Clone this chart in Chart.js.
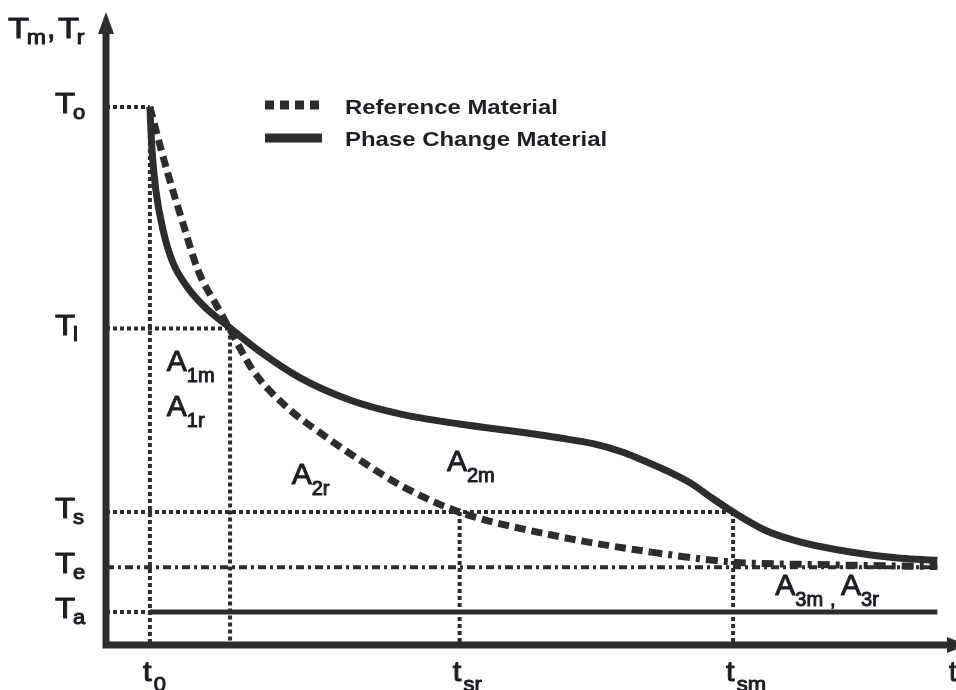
<!DOCTYPE html>
<html>
<head>
<meta charset="utf-8">
<script src="https://cdn.jsdelivr.net/npm/chart.js@4.4.1/dist/chart.umd.min.js"></script>
<style>
  html, body { margin: 0; padding: 0; background: #fff; }
  #wrap { width: 956px; height: 690px; }
</style>
</head>
<body>
<div id="wrap"><canvas id="curvas" width="956" height="690"></canvas></div>
<script>
// marcas de tiempo: t0, cruce de curvas, t_sr, t_sm, fin
var tiempos = [5.2, 14.7, 41.9, 74.3, 98.5];
var etiquetasT = [['t', '0'], null, ['t', 'sr'], ['t', 'sm'], null];
// niveles de temperatura: To, Tl, Ts, Te, Ta
var temps = [85, 50, 21, 12.3, 5.2];
var etiquetasTemp = [['T', 'o'], ['T', 'l'], ['T', 's'], ['T', 'e'], ['T', 'a']];

// Phase Change Material
var pcmX = [5.2, 5.45, 5.9, 6.75, 7.9, 9.6, 11.7, 14.7, 18.3, 23.0, 28.9, 34.8, 41.9, 49.9, 53.8, 57.7, 60.9, 63.6, 66.8, 69.6, 71.6, 74.3, 78.3, 82.2, 88.2, 94.1, 98.5];
var pcmY = [85.0, 78.2, 71.9, 65.6, 60.5, 56.6, 53.4, 50.1, 46.3, 42.2, 38.7, 36.5, 34.9, 33.5, 32.7, 31.8, 30.6, 29.2, 27.3, 25.3, 23.4, 21.0, 18.0, 16.3, 14.7, 13.7, 13.4];
// Reference Material
var refX = [5.2, 5.9, 7.3, 9.1, 10.9, 13.2, 14.7, 17.4, 21.4, 25.4, 30.1, 35.2, 41.9, 53.8, 64.5, 74.3, 84.6, 98.5];
var refY = [85.0, 81.4, 74.6, 66.7, 59.2, 53.4, 49.8, 43.4, 37.6, 33.5, 29.2, 25.0, 21.0, 17.1, 14.7, 13.1, 12.7, 12.4];

var colorLinea = '#2d2d2d';
var colorTexto = '#1e1e26';
var fuente = '"Liberation Sans", Arial, Helvetica, sans-serif';

function puntos(xs, ys) {
  return xs.map(function (x, i) { return { x: x, y: ys[i] }; });
}

function guia(x1, y1, x2, y2, dash, ancho) {
  return {
    data: [{ x: x1, y: y1 }, { x: x2, y: y2 }],
    borderColor: colorLinea,
    borderWidth: ancho || 4,
    borderDash: dash,
    borderCapStyle: 'butt',
    pointRadius: 0,
    tension: 0
  };
}

var puntitos = [4, 3];
var datasets = [
  {
    label: 'Phase Change Material',
    data: puntos(pcmX, pcmY),
    borderColor: colorLinea,
    borderWidth: 7,
    pointRadius: 0,
    cubicInterpolationMode: 'monotone'
  },
  {
    label: 'Reference Material',
    data: puntos(refX, refY),
    borderColor: colorLinea,
    borderWidth: 7,
    borderCapStyle: 'butt',
    pointRadius: 0,
    cubicInterpolationMode: 'monotone',
    segment: {
      borderDash: function (ctx) {
        return ctx.p0.parsed.x > 55 ? [12, 6, 4, 6] : [11, 6];
      }
    }
  },
  // lineas horizontales
  guia(0, temps[0], tiempos[0], temps[0], puntitos),
  guia(0, temps[1], tiempos[1], temps[1], puntitos),
  guia(0, temps[2], tiempos[3], temps[2], puntitos),
  guia(0, temps[3], tiempos[4], temps[3], [8, 4, 3, 4]),
  guia(0, temps[4], tiempos[0], temps[4], puntitos),
  guia(tiempos[0], temps[4], tiempos[4], temps[4], [], 5),
  // lineas verticales
  guia(tiempos[0], temps[0], tiempos[0], 0, puntitos),
  guia(tiempos[1], temps[1], tiempos[1], 0, puntitos),
  guia(tiempos[2], temps[2], tiempos[2], 0, puntitos),
  guia(tiempos[3], temps[2], tiempos[3], 0, puntitos)
];

// texto con un poco de trazo para darle peso medio
function escribir(ctx, txt, x, y) {
  ctx.fillText(txt, x, y);
  ctx.strokeText(txt, x, y);
}

function conSub(ctx, main, sub, x, y, f1, f2, dy, gap, sx) {
  ctx.save();
  ctx.translate(x, y);
  ctx.scale(sx || 1, 1);
  ctx.font = f1;
  escribir(ctx, main, 0, 0);
  var w = ctx.measureText(main).width;
  ctx.font = f2;
  escribir(ctx, sub, w + gap, dy);
  var w2 = ctx.measureText(sub).width;
  ctx.restore();
  return x + (w + gap + w2) * (sx || 1);
}

var dibujo = {
  id: 'dibujo',
  afterDatasetsDraw: function (chart) {
    var ctx = chart.ctx;
    var a = chart.chartArea;
    var sx = chart.scales.x, sy = chart.scales.y;
    var grande = '30px ' + fuente, chico = '20px ' + fuente;

    // ejes
    ctx.save();
    ctx.strokeStyle = colorLinea;
    ctx.fillStyle = colorLinea;
    ctx.lineWidth = 7;
    ctx.beginPath();
    ctx.moveTo(a.left, a.top + 18);
    ctx.lineTo(a.left, a.bottom + 3.5);
    ctx.moveTo(a.left - 3.5, a.bottom);
    ctx.lineTo(a.right - 2, a.bottom);
    ctx.stroke();
    ctx.beginPath();
    ctx.moveTo(a.left, a.top);
    ctx.lineTo(a.left - 8, a.top + 22);
    ctx.lineTo(a.left + 8, a.top + 22);
    ctx.closePath();
    ctx.fill();
    ctx.beginPath();
    ctx.moveTo(a.right + 18, a.bottom);
    ctx.lineTo(a.right - 3, a.bottom - 8);
    ctx.lineTo(a.right - 3, a.bottom + 8);
    ctx.closePath();
    ctx.fill();
    ctx.restore();

    ctx.save();
    ctx.fillStyle = colorTexto;
    ctx.strokeStyle = colorTexto;
    ctx.lineWidth = 1;
    ctx.lineJoin = 'round';
    ctx.textBaseline = 'alphabetic';
    ctx.textAlign = 'left';

    // titulo del eje y
    var xt = conSub(ctx, 'T', 'm', 8, 38, grande, chico, 6, -2, 1.15);
    ctx.font = grande;
    escribir(ctx, ',', xt + 1, 38);
    conSub(ctx, 'T', 'r', xt + 12, 38, grande, chico, 6, -2, 1.15);

    // etiquetas de temperatura
    temps.forEach(function (v, i) {
      var py = sy.getPixelForValue(v);
      conSub(ctx, etiquetasTemp[i][0], etiquetasTemp[i][1], 55, py + 6, grande, chico, 6, -2, 1.1);
    });

    // etiquetas de tiempo
    tiempos.forEach(function (v, i) {
      if (!etiquetasT[i]) return;
      var px = sx.getPixelForValue(v);
      conSub(ctx, etiquetasT[i][0], etiquetasT[i][1], px - 7, a.bottom + 36, '28px ' + fuente, chico, 10, 2, 1.1);
    });
    ctx.font = '28px ' + fuente;
    escribir(ctx, 't', 949, a.bottom + 36);

    // areas
    function area(main, sub, xv, yv) {
      return conSub(ctx, main, sub, sx.getPixelForValue(xv), sy.getPixelForValue(yv), grande, chico, 11, 0, 1);
    }
    area('A', '1m', 7.2, 43.3);
    area('A', '1r', 7.2, 36.2);
    area('A', '2r', 22.0, 25.5);
    area('A', '2m', 40.4, 27.5);
    var xa = area('A', '3m', 79.3, 7.9);
    ctx.font = chico;
    escribir(ctx, ',', xa + 7, sy.getPixelForValue(7.9) + 11);
    conSub(ctx, 'A', '3r', xa + 18, sy.getPixelForValue(7.9), grande, chico, 11, 0, 1);

    // leyenda
    var ref = chart.data.datasets[1], pcm = chart.data.datasets[0];
    ctx.strokeStyle = ref.borderColor;
    ctx.lineWidth = 9;
    ctx.setLineDash([9, 6]);
    ctx.beginPath();
    ctx.moveTo(265, 105);
    ctx.lineTo(323, 105);
    ctx.stroke();
    ctx.setLineDash([]);
    ctx.strokeStyle = pcm.borderColor;
    ctx.beginPath();
    ctx.moveTo(265, 138);
    ctx.lineTo(322, 138);
    ctx.stroke();
    [ref.label, pcm.label].forEach(function (txt, i) {
      ctx.save();
      ctx.translate(345, 114 + i * 32);
      ctx.scale(1.14, 1);
      ctx.font = 'bold 21px ' + fuente;
      ctx.fillText(txt, 0, 0);
      ctx.restore();
    });
    ctx.restore();
  }
};

var grafico = new Chart(document.getElementById('curvas').getContext('2d'), {
  type: 'line',
  data: { datasets: datasets },
  options: {
    responsive: false,
    animation: false,
    layout: { padding: { left: 106, right: 6, top: 12, bottom: 45 } },
    scales: {
      x: { type: 'linear', min: 0, max: 100, display: false },
      y: { type: 'linear', min: 0, max: 100, display: false }
    },
    plugins: { legend: { display: false }, tooltip: { enabled: false } }
  },
  plugins: [dibujo]
});
</script>
</body>
</html>
